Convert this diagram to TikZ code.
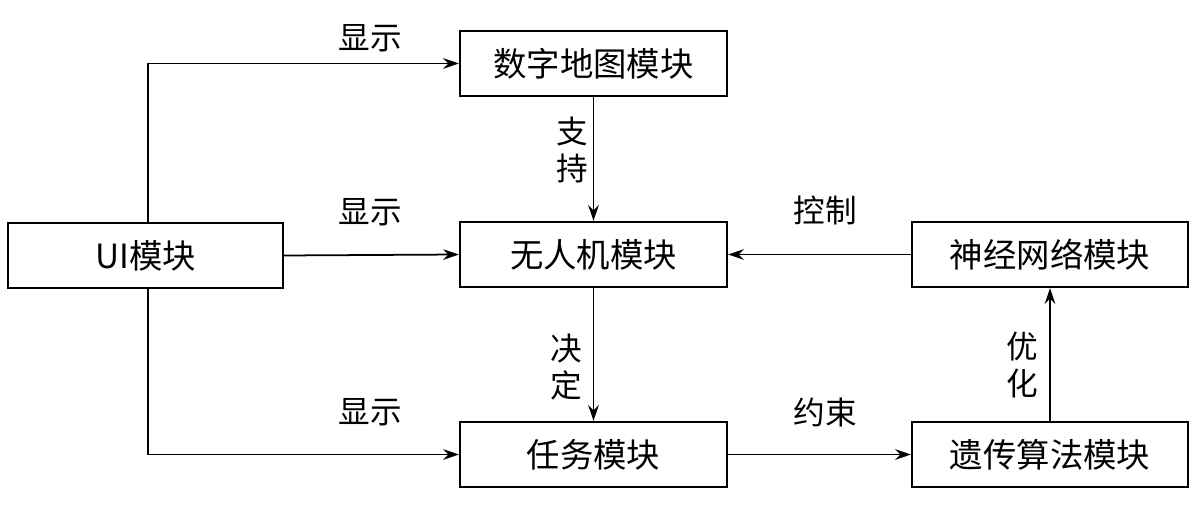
\documentclass[tikz,border=0pt]{standalone}
\usepackage{fontspec}
\newfontfamily\cjk{Noto Sans CJK SC}
\usetikzlibrary{arrows.meta}
\begin{document}
\begin{tikzpicture}[x=0.02cm,y=-0.02cm,
  box/.style={draw,line width=1.2pt,minimum height=1.3cm,inner sep=0pt,font=\cjk\fontsize{19}{22}\selectfont},
  lab/.style={font=\cjk\fontsize{18}{21}\selectfont,align=center,inner sep=1pt},
  arr/.style={line width=1pt,-{Stealth[length=9pt,width=6pt]}}]
\useasboundingbox (0,0) rectangle (1200,506);
\node[box,minimum width=5.5cm] (ui) at (145.5,255.5) {UI模块};
\node[box,minimum width=5.34cm] (map) at (593.5,63.5) {数字地图模块};
\node[box,minimum width=5.34cm] (uav) at (593.5,254.5) {无人机模块};
\node[box,minimum width=5.34cm] (task) at (593.5,454.5) {任务模块};
\node[box,minimum width=5.52cm] (nn) at (1050,254.5) {神经网络模块};
\node[box,minimum width=5.52cm] (ga) at (1050,454.5) {遗传算法模块};
\coordinate (t1) at (148,63.5);
\coordinate (t2) at (148,454.5);
\draw[arr] (ui.north -| t1) -- (t1) -- (map.west);
\draw[arr] (ui.east) -- (uav.west);
\draw[arr] (ui.south -| t2) -- (t2) -- (task.west);
\draw[arr] (map.south) -- (uav.north);
\draw[arr] (uav.south) -- (task.north);
\draw[arr] (nn.west) -- (uav.east);
\draw[arr] (task.east) -- (ga.west);
\draw[arr] (ga.north) -- (nn.south);
\node[lab] (l1) at (370,38) {显示};
\node[lab] (l2) at (370,212) {显示};
\node[lab] (l3) at (370,412) {显示};
\node[lab] (l4) at (572,150) {支\\持};
\node[lab] (l5) at (566,367) {决\\定};
\node[lab] (l6) at (825,210) {控制};
\node[lab] (l7) at (825,412) {约束};
\node[lab] (l8) at (1022,365) {优\\化};
\end{tikzpicture}
\end{document}
